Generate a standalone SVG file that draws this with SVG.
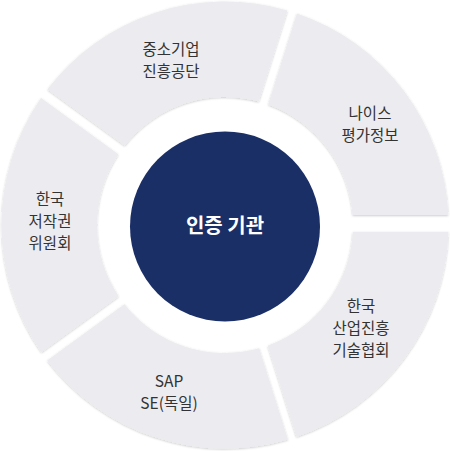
<svg xmlns="http://www.w3.org/2000/svg" width="450" height="451" viewBox="0 0 450 451">
  <defs>
    <filter id="sh" x="-10%" y="-10%" width="120%" height="120%">
      <feDropShadow dx="0" dy="0.8" stdDeviation="1.2" flood-color="#000" flood-opacity="0.22"/>
    </filter>
    <style>
      .seg { fill: #ececf0; filter: url(#sh); }
      .lbl { font-family: "Noto Sans CJK KR", "Noto Sans", sans-serif; font-size: 15.5px; fill: #333333; text-anchor: middle; dominant-baseline: central; }
      .ctr { font-family: "Noto Sans CJK KR", "Noto Sans", sans-serif; font-size: 20px; font-weight: bold; fill: #ffffff; text-anchor: middle; dominant-baseline: central; }
    </style>
  </defs>
  <rect width="450" height="451" fill="#ffffff"/>

  <g id="seg-sbc">
    <path class="seg" d="M47.52,89.16 A223.5,223.5 0 0 1 287.42,10.39 L258.69,101.51 A128,128 0 0 0 124.77,145.39 Z"/>
    <text class="lbl" x="171" y="48">중소기업</text>
    <text class="lbl" x="171" y="70">진흥공단</text>
  </g>

  <g id="seg-nice">
    <path class="seg" d="M296.96,13.40 A223.5,223.5 0 0 1 448.28,215 L352.6,215 A128,128 0 0 0 268.23,104.52 Z"/>
    <text class="lbl" x="370" y="112">나이스</text>
    <text class="lbl" x="370" y="134">평가정보</text>
  </g>

  <g id="seg-koita">
    <path class="seg" d="M448.39,232 A223.5,223.5 0 0 1 296.49,436.76 L267.76,345.65 A128,128 0 0 0 352.81,232 Z"/>
    <text class="lbl" x="361" y="305">한국</text>
    <text class="lbl" x="361" y="327">산업진흥</text>
    <text class="lbl" x="361" y="349">기술협회</text>
  </g>

  <g id="seg-sap">
    <path class="seg" d="M287.90,439.47 A223.5,223.5 0 0 1 47.21,360.44 L124.46,304.22 A128,128 0 0 0 259.17,348.35 Z"/>
    <text class="lbl" x="169" y="380">SAP</text>
    <text class="lbl" x="169" y="402">SE(독일)</text>
  </g>

  <g id="seg-copyright">
    <path class="seg" d="M41.32,352.33 A223.5,223.5 0 0 1 41.03,98.07 L118.32,154.26 A128,128 0 0 0 118.60,296.15 Z"/>
    <text class="lbl" x="50" y="198">한국</text>
    <text class="lbl" x="50" y="220">저작권</text>
    <text class="lbl" x="50" y="242">위원회</text>
  </g>

  <g id="center">
    <circle cx="225" cy="226.5" r="95" fill="#1b2f67"/>
    <text class="ctr" x="225" y="224">인증 기관</text>
  </g>
</svg>
